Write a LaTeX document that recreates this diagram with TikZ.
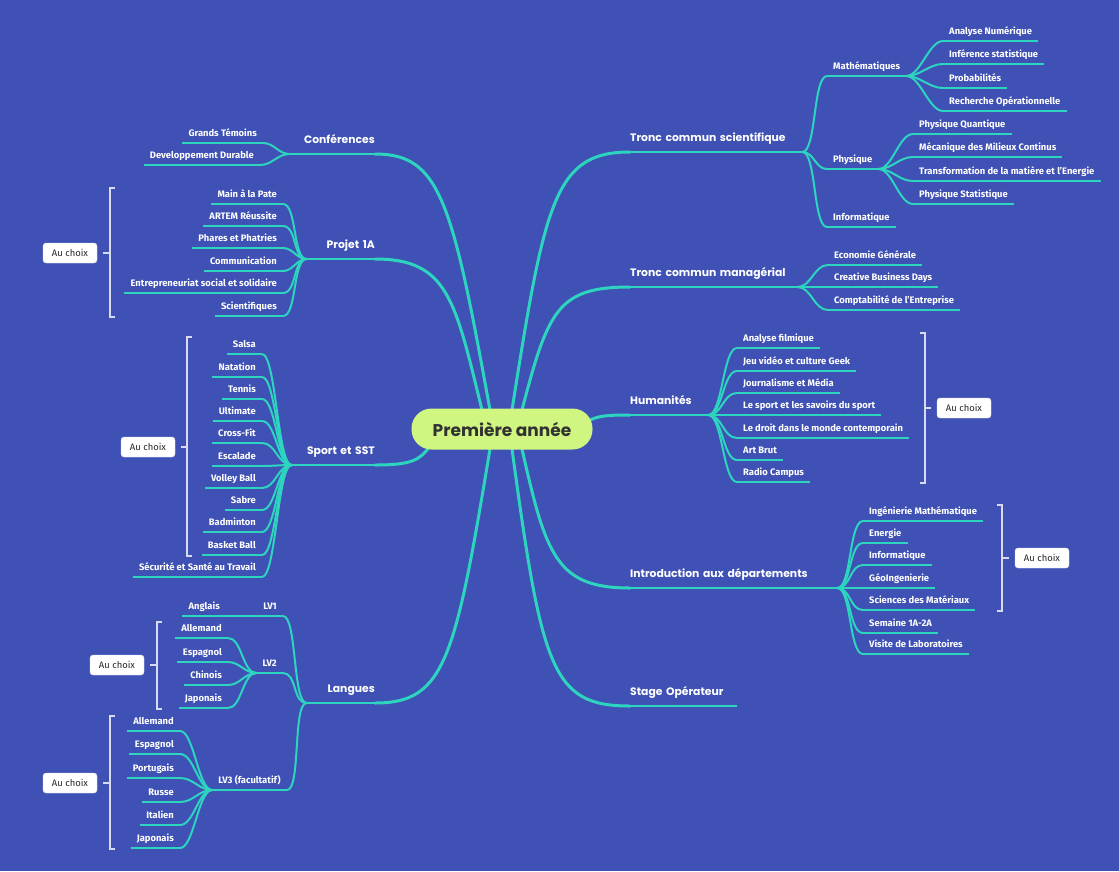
\documentclass[tikz,border=0pt]{standalone}
\usepackage{fontspec}
\setmainfont{Fira Sans}
\newfontfamily\popfont{Poppins}
\definecolor{bgblue}{RGB}{63,81,181}
\definecolor{branchc}{RGB}{45,212,190}
\definecolor{rootfill}{RGB}{208,245,128}
\definecolor{rootink}{RGB}{50,50,50}
\definecolor{brkc}{RGB}{215,218,240}
\definecolor{choixink}{RGB}{40,40,40}
\tikzset{
  branch/.style={draw=branchc, line width=3pt, line cap=round},
  under/.style={draw=branchc, line width=2.5pt},
  twig/.style={draw=branchc, line width=2pt},
  link/.style={twig, out=0, in=180, max distance=14pt},
  mainR/.style={anchor=south west, align=left, text=white, inner xsep=0pt, inner ysep=7pt,
    text height=8pt, text depth=3pt, font=\popfont\bfseries\fontsize{10.8}{12}\selectfont},
  mainL/.style={mainR, anchor=south east, align=right},
  leafR/.style={anchor=south west, text=white, inner xsep=6pt, inner ysep=4pt,
    text height=7pt, text depth=2pt, font=\bfseries\fontsize{9.4}{11}\selectfont},
  leafL/.style={leafR, anchor=south east},
  brk/.style={draw=brkc, line width=1.3pt},
  choix/.style={fill=white, draw=brkc, rounded corners=3pt, minimum width=54pt, minimum height=20pt,
    inner sep=0pt, text=choixink, font=\fontsize{9.4}{11}\selectfont},
  root/.style={fill=rootfill, rounded corners=20pt, minimum width=181pt, minimum height=41pt,
    text=rootink, font=\popfont\bfseries\fontsize{17}{19}\selectfont}
}
\begin{document}
\begin{tikzpicture}[x=1pt,y=-1pt]
  \fill[bgblue] (0,0) rectangle (1119,871);
  % main branches, right
  \node[mainR, text width=172pt] (tcs) at (630,152) {Tronc commun scientifique};
  \node[mainR, text width=167pt] (tcm) at (630,287) {Tronc commun managérial};
  \node[mainR, text width=78pt] (hum) at (630,415) {Humanités};
  \node[mainR, text width=207pt] (intro) at (630,588) {Introduction aux départements};
  \node[mainR, text width=107pt] (stage) at (630,706) {Stage Opérateur};
  % main branches, left
  \node[mainL, text width=85pt] (conf) at (375,154) {Conférences};
  \node[mainL, text width=68pt] (proj) at (375,259) {Projet 1A};
  \node[mainL, text width=83pt] (sport) at (375,465) {Sport et SST};
  \node[mainL, text width=68pt] (lang) at (375,703) {Langues};
  %
  \node[leafR] (math) at (827,76) {Mathématiques};
  \node[leafR] (phys) at (827,169) {Physique};
  \node[leafR] (info) at (827,227) {Informatique};
  \node[leafR] (an) at (943,41) {Analyse Numérique};
  \node[leafR] (inf) at (943,64) {Inférence statistique};
  \node[leafR] (prob) at (943,88) {Probabilités};
  \node[leafR] (rech) at (943,111) {Recherche Opérationnelle};
  \node[leafR] (pq) at (913,134) {Physique Quantique};
  \node[leafR] (mmc) at (913,157) {Mécanique des Milieux Continus};
  \node[leafR] (tme) at (913,181) {Transformation de la matière et l'Energie};
  \node[leafR] (ps) at (913,204) {Physique Statistique};
  %
  \node[leafR] (eco) at (828,265) {Economie Générale};
  \node[leafR] (cbd) at (828,287) {Creative Business Days};
  \node[leafR] (comp) at (828,310) {Comptabilité de l'Entreprise};
  %
  \node[leafR] (af) at (737,348) {Analyse filmique};
  \node[leafR] (jv) at (737,371) {Jeu vidéo et culture Geek};
  \node[leafR] (jm) at (737,393) {Journalisme et Média};
  \node[leafR] (ls) at (737,415) {Le sport et les savoirs du sport};
  \node[leafR] (ld) at (737,438) {Le droit dans le monde contemporain};
  \node[leafR] (ab) at (737,460) {Art Brut};
  \node[leafR] (rc) at (737,482) {Radio Campus};
  %
  \node[leafR] (im) at (863,521) {Ingénierie Mathématique};
  \node[leafR] (en) at (863,543) {Energie};
  \node[leafR] (inf2) at (863,565) {Informatique};
  \node[leafR] (geo) at (863,588) {GéoIngenierie};
  \node[leafR] (sm) at (863,610) {Sciences des Matériaux};
  \node[leafR] (sem) at (863,633) {Semaine 1A-2A};
  \node[leafR] (vis) at (863,654) {Visite de Laboratoires};
  %
  \node[leafL] (gt) at (263,143) {Grands Témoins};
  \node[leafL] (dd) at (260,165) {Developpement Durable};
  %
  \node[leafL] (mp) at (283,204) {Main à la Pate};
  \node[leafL] (ar) at (283,226) {ARTEM Réussite};
  \node[leafL] (ph) at (283,248) {Phares et Phatries};
  \node[leafL] (com) at (283,271) {Communication};
  \node[leafL] (ent) at (283,293) {Entrepreneuriat social et solidaire};
  \node[leafL] (sci) at (283,316) {Scientifiques};
  %
  \node[leafL] (sal) at (262,354) {Salsa};
  \node[leafL] (nat) at (262,377) {Natation};
  \node[leafL] (ten) at (262,399) {Tennis};
  \node[leafL] (ult) at (262,421) {Ultimate};
  \node[leafL] (cf) at (262,443) {Cross-Fit};
  \node[leafL] (esc) at (262,466) {Escalade};
  \node[leafL] (vb) at (262,488) {Volley Ball};
  \node[leafL] (sab) at (262,510) {Sabre};
  \node[leafL] (bad) at (262,532) {Badminton};
  \node[leafL] (bb) at (262,555) {Basket Ball};
  \node[leafL] (sec) at (262,577) {Sécurité et Santé au Travail};
  %
  \node[leafL] (lv1) at (283,616) {LV1};
  \node[leafL] (ang) at (226,616) {Anglais};
  \node[leafL] (lv2) at (283,673) {LV2};
  \node[leafL] (lv3) at (287,790) {LV3 (facultatif)};
  \node[leafL] (al2) at (228,638) {Allemand};
  \node[leafL] (es2) at (228,662) {Espagnol};
  \node[leafL] (ch2) at (228,685) {Chinois};
  \node[leafL] (ja2) at (228,708) {Japonais};
  \node[leafL] (al3) at (180,731) {Allemand};
  \node[leafL] (es3) at (180,754) {Espagnol};
  \node[leafL] (pt3) at (180,778) {Portugais};
  \node[leafL] (ru3) at (180,802) {Russe};
  \node[leafL] (it3) at (180,825) {Italien};
  \node[leafL] (ja3) at (180,848) {Japonais};
  % underlines
  \foreach \n in {tcs,tcm,hum,intro,stage,conf,proj,sport,lang}
    \draw[under] (\n.south west) -- (\n.south east);
  \foreach \n in {math,phys,info,an,inf,prob,rech,pq,mmc,tme,ps,eco,cbd,comp,
      af,jv,jm,ls,ld,ab,rc,im,en,inf2,geo,sm,sem,vis,gt,dd,mp,ar,ph,com,ent,sci,
      sal,nat,ten,ult,cf,esc,vb,sab,bad,bb,sec,lv1,ang,lv2,lv3,
      al2,es2,ch2,ja2,al3,es3,pt3,ru3,it3,ja3}
    \draw[twig] (\n.south west) -- (\n.south east);
  % connectors
  \foreach \c in {math,phys,info} \draw[link] (tcs.south east) to (\c.south west);
  \foreach \c in {an,inf,prob,rech} \draw[link] (math.south east) to (\c.south west);
  \foreach \c in {pq,mmc,tme,ps} \draw[link] (phys.south east) to (\c.south west);
  \foreach \c in {eco,cbd,comp} \draw[link] (tcm.south east) to (\c.south west);
  \foreach \c in {af,jv,jm,ls,ld,ab,rc} \draw[link] (hum.south east) to (\c.south west);
  \foreach \c in {im,en,inf2,geo,sm,sem,vis} \draw[link] (intro.south east) to (\c.south west);
  \foreach \c in {gt,dd} \draw[link] (\c.south east) to (conf.south west);
  \foreach \c in {mp,ar,ph,com,ent,sci} \draw[link] (\c.south east) to (proj.south west);
  \foreach \c in {sal,nat,ten,ult,cf,esc,vb,sab,bad,bb,sec} \draw[link] (\c.south east) to (sport.south west);
  \foreach \c in {lv1,lv2,lv3} \draw[link] (\c.south east) to (lang.south west);
  \draw[twig] (ang.south east) -- (lv1.south west);
  \foreach \c in {al2,es2,ch2,ja2} \draw[link] (\c.south east) to (lv2.south west);
  \foreach \c in {al3,es3,pt3,ru3,it3,ja3} \draw[link] (\c.south east) to (lv3.south west);
  % from the root
  \coordinate (r-tcs) at (512,410);
  \coordinate (r-tcm) at (522,410);
  \coordinate (r-hum) at (588,421);
  \coordinate (r-intro) at (522,449);
  \coordinate (r-stage) at (512,449);
  \coordinate (r-conf) at (490,410);
  \coordinate (r-proj) at (482,410);
  \coordinate (r-sport) at (430,446);
  \coordinate (r-lang) at (490,449);
  \draw[branch] (r-tcs) .. controls (545,200) and (555,152) .. (tcs.south west);
  \draw[branch] (r-tcm) .. controls (548,310) and (558,287) .. (tcm.south west);
  \draw[branch] (r-hum) .. controls (598,416) and (605,415) .. (hum.south west);
  \draw[branch] (r-intro) .. controls (546,555) and (556,588) .. (intro.south west);
  \draw[branch] (r-stage) .. controls (542,670) and (552,706) .. (stage.south west);
  \draw[branch] (r-conf) .. controls (452,200) and (440,154) .. (conf.south east);
  \draw[branch] (r-proj) .. controls (455,300) and (448,259) .. (proj.south east);
  \draw[branch] (r-sport) .. controls (420,460) and (412,465) .. (sport.south east);
  \draw[branch] (r-lang) .. controls (455,660) and (445,703) .. (lang.south east);
  % au choix
  \node[choix] (c-proj) at (70,253) {Au choix};
  \node[choix] (c-sport) at (148,447) {Au choix};
  \node[choix] (c-lv2) at (117,665) {Au choix};
  \node[choix] (c-lv3) at (70,783) {Au choix};
  \node[choix] (c-hum) at (964,408) {Au choix};
  \node[choix] (c-intro) at (1042,558) {Au choix};
  \coordinate (b-proj) at (110,253);
  \coordinate (b-sport) at (187,447);
  \coordinate (b-lv2) at (157,665);
  \coordinate (b-lv3) at (110,783);
  \coordinate (b-hum) at (925,408);
  \coordinate (b-intro) at (1002,558);
  \draw[brk] (115,188) -| (b-proj) |- (115,317);
  \draw[brk] (192,337) -| (b-sport) |- (192,556);
  \draw[brk] (162,622) -| (b-lv2) |- (162,709);
  \draw[brk] (115,716) -| (b-lv3) |- (115,849);
  \draw[brk] (920,333) -| (b-hum) |- (920,483);
  \draw[brk] (997,505) -| (b-intro) |- (997,611);
  \foreach \b in {proj,sport,lv2,lv3,hum,intro}
    \draw[brk, shorten >=6pt] (b-\b) -- (c-\b);
  % root
  \node[root] (root) at (502,429) {Première année};
\end{tikzpicture}
\end{document}
